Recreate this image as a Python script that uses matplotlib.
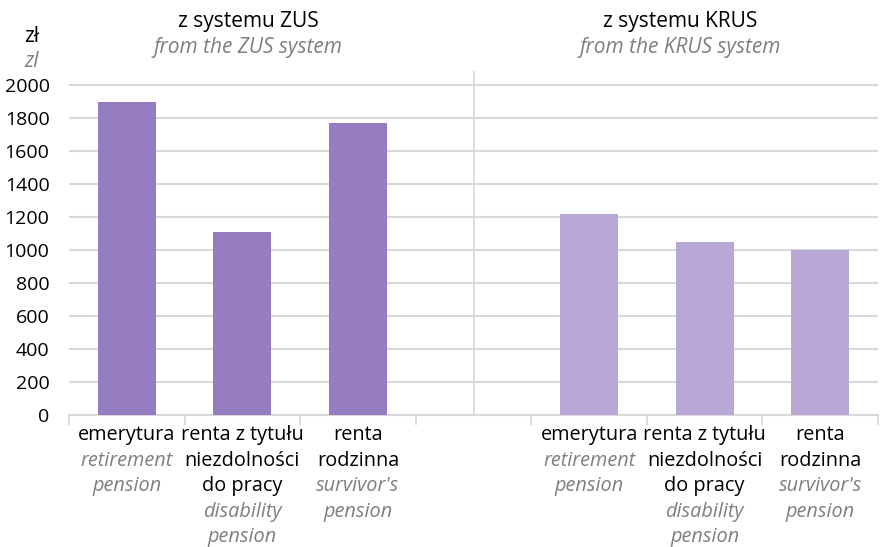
import numpy as np
import matplotlib
matplotlib.use("Agg")
import matplotlib.pyplot as plt

# średnie świadczenia (zł)
zus_values = [1897, 1109, 1770]
krus_values = [1218, 1048, 1000]

# etykiety kategorii: (polski, angielski)
cat_pl = ["emerytura", "renta z tytułu\nniezdolności\ndo pracy", "renta\nrodzinna"]
cat_en = ["retirement\npension", "disability\npension", "survivor's\npension"]

group_pl = ["z systemu ZUS", "z systemu KRUS"]
group_en = ["from the ZUS system", "from the KRUS system"]

y_ticks = np.arange(0, 2001, 200)

zus_color = "#967cc0"
krus_color = "#b9a7d6"
grey_text = "#7f7f7f"
grid_color = "#d9d9d9"

plt.rcParams["font.family"] = ["Open Sans", "DejaVu Sans"]

fig = plt.figure(figsize=(8.92, 5.47), dpi=100)
ax = fig.add_axes([69 / 892, 1 - 415 / 547, 809 / 892, 344 / 547])

# 7 miejsc: 3 słupki ZUS, puste, 3 słupki KRUS
zus_x = np.arange(len(zus_values))
krus_x = np.arange(len(krus_values)) + len(zus_values) + 1

ax.bar(zus_x, zus_values, width=0.5, color=zus_color, zorder=3)
ax.bar(krus_x, krus_values, width=0.5, color=krus_color, zorder=3)

ax.set_xlim(-0.5, 6.5)
ax.set_ylim(0, 2085)
ax.set_yticks(y_ticks)
ax.tick_params(axis="y", length=0, labelsize=14, pad=14)
ax.set_xticks(np.arange(-0.5, 7, 1))
ax.set_xticklabels([])
ax.tick_params(axis="x", length=7, color=grid_color, width=1.3)
ax.grid(axis="y", color=grid_color, linewidth=1.5, zorder=0)
for s in ["top", "right", "left"]:
    ax.spines[s].set_visible(False)
ax.spines["bottom"].set_color(grid_color)
ax.spines["bottom"].set_linewidth(1.5)

# linia oddzielająca grupy
ax.axvline(len(zus_values), color=grid_color, linewidth=1.2, zorder=1)

# podpisy kategorii pod osią
def draw_label(x, pl, en):
    lines = [(t, False) for t in pl.split("\n")] + [(t, True) for t in en.split("\n")]
    for i, (t, is_en) in enumerate(lines):
        ax.annotate(t, xy=(x, 0), xycoords=("data", "axes fraction"),
                    xytext=(0, -(20 + 25.5 * i) * 0.72), textcoords="offset points",
                    ha="center", va="center", fontsize=14.3,
                    color=grey_text if is_en else "black",
                    style="italic" if is_en else "normal")

for xs in (zus_x, krus_x):
    for x, pl, en in zip(xs, cat_pl, cat_en):
        draw_label(x, pl, en)

# tytuły grup
for cx, pl, en in zip([248, 680], group_pl, group_en):
    fig.text(cx / 892, 1 - 22 / 547, pl, ha="center", va="center", fontsize=15)
    fig.text(cx / 892, 1 - 47 / 547, en, ha="center", va="center", fontsize=15,
             color=grey_text, style="italic")

# jednostka
fig.text(32 / 892, 1 - 37 / 547, "zł", ha="center", va="center", fontsize=15)
fig.text(32 / 892, 1 - 62 / 547, "zl", ha="center", va="center", fontsize=15,
         color=grey_text, style="italic")

fig.savefig("out.png", dpi=100)
